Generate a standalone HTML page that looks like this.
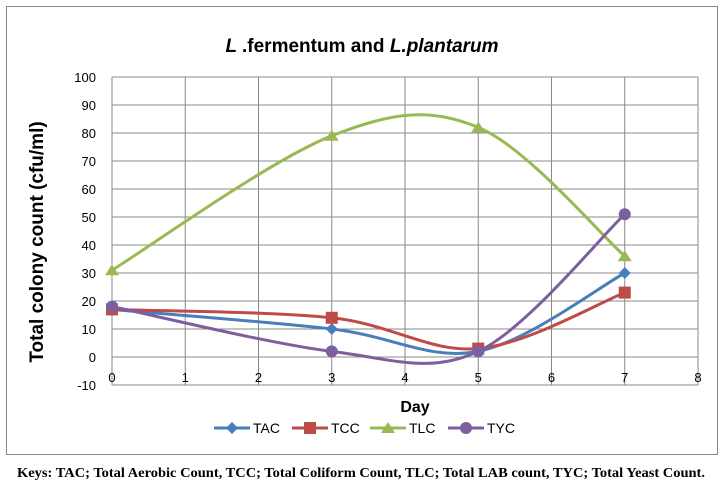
<!DOCTYPE html>
<html><head><meta charset="utf-8"><style>
body{margin:0;background:#fff;width:724px;height:485px;overflow:hidden;font-family:"Liberation Sans",sans-serif}
svg{position:absolute;left:0;top:0}
</style></head><body>
<svg width="724" height="485">
<rect x="6.5" y="6.5" width="711" height="448" fill="#fff" stroke="#888"/>
<text x="362" y="52" text-anchor="middle" font-size="19" font-weight="bold" font-style="italic">L <tspan font-style="normal">.fermentum and </tspan>L.plantarum</text>
<g id="grid"></g><g id="series"></g>
<text x="415" y="412" text-anchor="middle" font-size="16" font-weight="bold">Day</text>
<text transform="translate(43,242) rotate(-90)" text-anchor="middle" font-size="19" font-weight="bold">Total colony count (cfu/ml)</text>
<g id="legend"></g>
<text x="17" y="477" textLength="688" lengthAdjust="spacingAndGlyphs" font-family="Liberation Serif,serif" font-size="14" font-weight="bold">Keys: TAC; Total Aerobic Count, TCC; Total Coliform Count, TLC; Total LAB count, TYC; Total Yeast Count.</text>
</svg>
<script>
const days=[0,3,5,7];
const TAC=[17,10,2,30];
const TCC=[17,14,3,23];
const TLC=[31,79,82,36];
const TYC=[18,2,2,51];
const names=['TAC','TCC','TLC','TYC'];
const colors=['#4a7ebb','#be4b48','#98b954','#7d5fa0'];
const yTicks=[-10,0,10,20,30,40,50,60,70,80,90,100];
const xTicks=[0,1,2,3,4,5,6,7,8];
const X=v=>112+v*73.25, Y=v=>385-(v+10)*2.8;
const NS='http://www.w3.org/2000/svg';
function mk(t,a,p){const e=document.createElementNS(NS,t);for(const k in a)e.setAttribute(k,a[k]);p.appendChild(e);return e;}
const g=document.getElementById('grid');
yTicks.forEach(v=>{
 const l=mk('line',{x1:112,x2:698,y1:Y(v),y2:Y(v),stroke:'#888','stroke-width':1},g);
 
 
 const t=mk('text',{x:96,y:Y(v)+5,'text-anchor':'end','font-size':13},g);t.textContent=v;
 
 
});
xTicks.forEach(v=>{
 const l=mk('line',{x1:X(v),x2:X(v),y1:Y(100),y2:Y(-10),stroke:'#888'},g);
 
 
 const t=mk('text',{x:X(v),y:Y(-10)-3,'text-anchor':'middle','font-size':13},g);t.textContent=v;
 
 
});
function smooth(pts){let d='M'+pts[0][0]+','+pts[0][1];
 for(let i=0;i<pts.length-1;i++){const p0=pts[i-1]||pts[i],p1=pts[i],p2=pts[i+1],p3=pts[i+2]||p2;
 const c1=[p1[0]+(p2[0]-p0[0])/6,p1[1]+(p2[1]-p0[1])/6],c2=[p2[0]-(p3[0]-p1[0])/6,p2[1]-(p3[1]-p1[1])/6];
 d+=' C'+c1+' '+c2+' '+p2;}return d;}
function marker(i,x,y,p){let e;
 if(i==0)e=mk('path',{d:`M${x},${y-6}L${x+6},${y}L${x},${y+6}L${x-6},${y}Z`,fill:colors[i]},p);
 else if(i==1)e=mk('rect',{x:x-6,y:y-6,width:12,height:12,fill:colors[i]},p);
 else if(i==2)e=mk('path',{d:`M${x},${y-6}L${x+7},${y+5}L${x-7},${y+5}Z`,fill:colors[i]},p);
 else e=mk('circle',{cx:x,cy:y,r:6,fill:colors[i]},p);return e;}
const s=document.getElementById('series');
[TAC,TCC,TLC,TYC].forEach((vals,i)=>{
 const pts=days.map((d,j)=>[X(d),Y(vals[j])]);
 const p=mk('path',{d:smooth(pts),fill:'none',stroke:colors[i],'stroke-width':3},s);
 
 
 pts.forEach(q=>{const m=marker(i,q[0],q[1],s);
  
  });
});
const lg=document.getElementById('legend');
const lx=[214,292,370,448];
names.forEach((n,i)=>{
 const e=mk('g',{},lg);
 
 
 mk('line',{x1:lx[i],x2:lx[i]+36,y1:428,y2:428,stroke:colors[i],'stroke-width':3},e);
 marker(i,lx[i]+18,428,e);
 const t=mk('text',{x:lx[i]+39,y:433,'font-size':14},e);t.textContent=n;
});
</script>
</body></html>
